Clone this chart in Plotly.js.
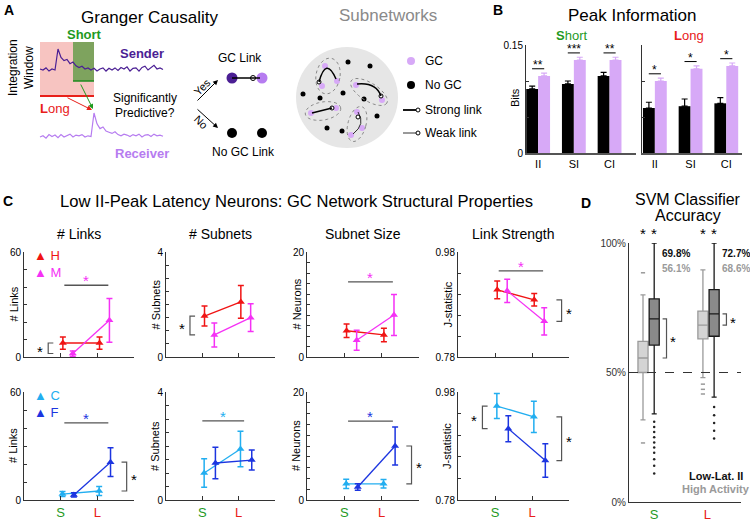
<!DOCTYPE html>
<html>
<head>
<meta charset="utf-8">
<script src="https://cdn.plot.ly/plotly-3.0.1.min.js"></script>
<style>body{margin:0;background:#fff;} #fig{width:750px;height:521px;}</style>
</head>
<body>
<div id="fig"></div>
<script>
// ---------- panel A: example traces (arbitrary units) ----------
const senderTrace = [0.05,0,0.1,-0.05,0.05,0,1.0,0.6,0.45,0.5,0.3,0.38,0.2,0.12,0.18,0.05,0.1,0,0.08,-0.05,0.05,0.1,-0.05,0.08,0,0.1,-0.02,0.12,0.05,0.15,-0.05,0.08,0.1,-0.05,0.12,0.18,0,0.1,0.22,0.05,0.1,0.02];
const receiverTrace = [0,0.05,-0.05,0.1,0.02,0.08,-0.03,0.1,0,0.05,0.12,0,0.08,0.05,0.1,0,0.05,0.02,1.0,0.55,0.35,0.42,0.25,0.2,0.15,0.22,0.1,0.05,0.12,0.08,0.02,0.1,0.05,0.12,0,0.08,0.1,0.02,0.12,0.05,0.08,0.03];

// ---------- panel B: peak information (bits) ----------
const regions = ['II', 'SI', 'CI'];
const shortNoGC = [0.089, 0.096, 0.107];
const shortNoGCErr = [0.004, 0.004, 0.005];
const shortGC = [0.107, 0.129, 0.129];
const shortGCErr = [0.004, 0.004, 0.004];
const longNoGC = [0.0625, 0.065, 0.069];
const longNoGCErr = [0.008, 0.010, 0.008];
const longGC = [0.100, 0.117, 0.121];
const longGCErr = [0.004, 0.004, 0.004];
const shortStars = ['**', '***', '**'];
const longStars = ['*', '*', '*'];

// ---------- panel C: network properties, values at S and L ----------
const windows = ['S', 'L'];
const metricTitles = ['# Links', '# Subnets', 'Subnet Size', 'Link Strength'];
const metricYLabels = ['# Links', '# Subnets', '# Neurons', 'J-statistic'];
const metricRanges = [[0, 60], [0, 4], [0, 20], [0.78, 0.98]];
const metricSteps = [10, 0.5, 2, 0.04];

const linksH = [8, 8],        linksHErr = [3.5, 3.5];
const linksM = [2, 21],       linksMErr = [1.5, 12.5];
const subnetsH = [1.56, 2.1], subnetsHErr = [0.38, 0.62];
const subnetsM = [0.84, 1.5], subnetsMErr = [0.46, 0.53];
const sizeH = [5.0, 4.2],     sizeHErr = [1.3, 1.3];
const sizeM = [3.2, 8.0],     sizeMErr = [1.9, 3.9];
const strengthH = [0.908, 0.889], strengthHErr = [0.017, 0.012];
const strengthM = [0.906, 0.848], strengthMErr = [0.022, 0.026];

const linksC = [3.3, 5.0],    linksCErr = [1.4, 2.5];
const linksF = [2.8, 21],     linksFErr = [1.2, 8];
const subnetsC = [1.0, 1.89], subnetsCErr = [0.53, 0.66];
const subnetsF = [1.37, 1.48], subnetsFErr = [0.58, 0.37];
const sizeC = [3.0, 3.0],     sizeCErr = [0.85, 0.8];
const sizeF = [2.4, 10],      sizeFErr = [0.6, 3.5];
const strengthC = [0.954, 0.934], strengthCErr = [0.023, 0.029];
const strengthF = [0.912, 0.853], strengthFErr = [0.024, 0.031];

// significance bar heights over S..L (null = none)
const sigLevelTop = [41, null, 14.3, 0.944];
const sigLevelBottom = [42.8, 2.93, 14.6, 0.984];

// ---------- panel D: SVM accuracy (%) ----------
const svmWindows = ['S', 'L'];
const lowLatQ1 = [60.6, 64],   lowLatMed = [70.7, 72.6], lowLatQ3 = [78.4, 82];
const lowLatLo = [34, 40.5],   lowLatHi = [100, 100];
const highActQ1 = [50, 63],    highActMed = [55.6, 68.3], highActQ3 = [62, 73.7];
const highActLo = [31.7, 48],  highActHi = [80, 89.6];
const lowLatOutS = [31, 29, 27, 25, 23, 21, 19, 16.5, 14, 11];
const lowLatOutL = [36.7, 33.5, 30.5, 27.5, 24.5];
const highActOutS = [88.5, 22.8];
const highActOutL = [45.5, 43.5, 41.7];
const lowLatMean = ['69.8%', '72.7%'];
const highActMean = ['56.1%', '68.6%'];

// ---------- colours ----------
const RED = '#f01414', MAG = '#f531f5', LBLUE = '#22aef0', DBLUE = '#1c35e0';
const GREEN = '#1f9a1f', PURPLE = '#d7a9f7', SENDER = '#4b1f94', RECEIVER = '#b67cf0';
const AX = '#333';
const FONT = 'Liberation Sans, Arial, sans-serif';

// pixel -> paper helpers (margins are zero)
const dx = (a, b) => [a / 750, b / 750];
const dy = (top, bottom) => [1 - bottom / 521, 1 - top / 521];

const traces = [];
const shapes = [];
const annotations = [];
const layout = {
  width: 750, height: 521, margin: {l: 0, r: 0, t: 0, b: 0},
  paper_bgcolor: '#fff', plot_bgcolor: 'rgba(0,0,0,0)',
  showlegend: false, font: {family: FONT, color: '#000', size: 11},
  barmode: 'group', bargap: 0.333, bargroupgap: 0,
};

function txt(x, y, text, extra) {
  return Object.assign({xref: 'x12', yref: 'y12', x: x, y: y, text: text, showarrow: false,
    font: {size: 12, color: '#000'}}, extra || {});
}

// overlay axis in pixel coordinates for the schematic and free text
layout.xaxis12 = {domain: [0, 1], range: [0, 750], visible: false, fixedrange: true};
layout.yaxis12 = {domain: [0, 1], range: [521, 0], visible: false, fixedrange: true};

// ================= panel A =================
annotations.push(txt(9, 10, '<b>A</b>', {font: {size: 14}}));
annotations.push(txt(150, 17, 'Granger Causality', {font: {size: 17}}));
annotations.push(txt(388, 15, 'Subnetworks', {font: {size: 17, color: '#8a8a8a'}}));

shapes.push({type: 'rect', xref: 'x12', yref: 'y12', x0: 40, x1: 94, y0: 42, y1: 95, fillcolor: '#f7c4c1', line: {width: 0}, layer: 'below'});
shapes.push({type: 'rect', xref: 'x12', yref: 'y12', x0: 73, x1: 94, y0: 42, y1: 81, fillcolor: '#7ea35e', line: {width: 0}, layer: 'below'});
shapes.push({type: 'line', xref: 'x12', yref: 'y12', x0: 73, x1: 94, y0: 81, y1: 81, line: {color: '#1f8a1f', width: 1.5}});
shapes.push({type: 'line', xref: 'x12', yref: 'y12', x0: 40, x1: 94, y0: 96, y1: 96, line: {color: '#e8201a', width: 2}});

traces.push({x: senderTrace.map((_, i) => 40 + 3 * i), y: senderTrace.map(v => 70 - v * 21),
  xaxis: 'x12', yaxis: 'y12', type: 'scatter', mode: 'lines', line: {color: SENDER, width: 1.2}, hoverinfo: 'skip'});
traces.push({x: receiverTrace.map((_, i) => 40 + 3 * i), y: receiverTrace.map(v => 137 - v * 24),
  xaxis: 'x12', yaxis: 'y12', type: 'scatter', mode: 'lines', line: {color: RECEIVER, width: 1.2}, hoverinfo: 'skip'});

annotations.push(txt(84, 34, '<b>Short</b>', {font: {size: 13, color: GREEN}}));
annotations.push(txt(55, 108, '<b>L</b>ong', {font: {size: 13, color: '#e8201a'}}));
annotations.push(txt(142, 53, '<b>Sender</b>', {font: {size: 13, color: SENDER}}));
annotations.push(txt(142, 153, '<b>Receiver</b>', {font: {size: 13, color: RECEIVER}}));
annotations.push(txt(21, 68, 'Integration<br>Window', {textangle: -90, font: {size: 12}}));
annotations.push(txt(145, 98, 'Significantly', {font: {size: 12}}));
annotations.push(txt(145, 113, 'Predictive?', {font: {size: 12}}));

const arrow = (x, y, ax, ay, color) => ({xref: 'x12', yref: 'y12', axref: 'x12', ayref: 'y12',
  x: x, y: y, ax: ax, ay: ay, text: '', showarrow: true, arrowhead: 2, arrowsize: 1, arrowwidth: 1, arrowcolor: color});
annotations.push(arrow(93, 109, 80, 83, GREEN));
annotations.push(arrow(92, 110, 66, 97, '#e8201a'));
annotations.push(arrow(218, 80, 196, 102, '#000'));
annotations.push(arrow(218, 128, 196, 108, '#000'));
annotations.push(txt(202, 87, 'Yes', {textangle: -45, font: {size: 11}}));
annotations.push(txt(201, 122, 'No', {textangle: 45, font: {size: 11}}));

annotations.push(txt(240, 58, 'GC Link', {font: {size: 12}}));
annotations.push(txt(243, 152, 'No GC Link', {font: {size: 12}}));
shapes.push({type: 'line', xref: 'x12', yref: 'y12', x0: 232, x1: 260, y0: 78, y1: 78, line: {color: '#000', width: 1.5}});
traces.push({x: [232, 262], y: [78, 78], xaxis: 'x12', yaxis: 'y12', type: 'scatter', mode: 'markers',
  marker: {size: 11, color: [SENDER, RECEIVER]}, hoverinfo: 'skip'});
traces.push({x: [253], y: [78], xaxis: 'x12', yaxis: 'y12', type: 'scatter', mode: 'markers',
  marker: {size: 5, color: '#fff', line: {color: '#000', width: 1}}, hoverinfo: 'skip'});
traces.push({x: [232, 262], y: [133, 133], xaxis: 'x12', yaxis: 'y12', type: 'scatter', mode: 'markers',
  marker: {size: 10, color: '#000'}, hoverinfo: 'skip'});

// subnetwork sketch
shapes.push({type: 'circle', xref: 'x12', yref: 'y12', x0: 296, x1: 398, y0: 47, y1: 148, fillcolor: '#e6e6e6', line: {width: 0}, layer: 'below'});
function ellipsePath(cx, cy, rx, ry, deg) {
  const a = deg * Math.PI / 180;
  let p = '';
  for (let k = 0; k <= 36; k++) {
    const t = k / 36 * 2 * Math.PI;
    const ex = rx * Math.cos(t), ey = ry * Math.sin(t);
    const x = cx + ex * Math.cos(a) - ey * Math.sin(a);
    const y = cy + ex * Math.sin(a) + ey * Math.cos(a);
    p += (k === 0 ? 'M' : 'L') + x.toFixed(1) + ',' + y.toFixed(1);
  }
  return p + 'Z';
}
[[328, 76, 12, 18, 10], [369, 92, 21, 9, 32], [323, 111, 18, 9, -10], [357, 124, 9, 18, 15]].forEach(e => {
  shapes.push({type: 'path', xref: 'x12', yref: 'y12', path: ellipsePath(...e), line: {color: '#888', width: 1, dash: 'dot'}});
});
shapes.push({type: 'path', xref: 'x12', yref: 'y12', path: 'M319,82 Q326,56 336,79', line: {color: '#000', width: 1.5}});
shapes.push({type: 'path', xref: 'x12', yref: 'y12', path: 'M357,84 Q376,82 381,96', line: {color: '#000', width: 1.5}});
shapes.push({type: 'line', xref: 'x12', yref: 'y12', x0: 312, y0: 113, x1: 332, y1: 108, line: {color: '#000', width: 1.5}});
shapes.push({type: 'path', xref: 'x12', yref: 'y12', path: 'M353,134 Q366,124 358,112', line: {color: '#000', width: 0.8}});
traces.push({x: [348, 370, 303, 320, 343, 364, 377, 327, 342], y: [62, 66, 94, 98, 93, 99, 116, 128, 131],
  xaxis: 'x12', yaxis: 'y12', type: 'scatter', mode: 'markers', marker: {size: 5, color: '#000'}, hoverinfo: 'skip'});
traces.push({x: [325, 337, 322, 356, 382, 311, 336, 357, 362, 351], y: [66, 81, 86, 85, 100, 113, 108, 112, 128, 135],
  xaxis: 'x12', yaxis: 'y12', type: 'scatter', mode: 'markers', marker: {size: 6, color: PURPLE}, hoverinfo: 'skip'});
traces.push({x: [319, 381, 332, 358], y: [82, 96, 108, 117], xaxis: 'x12', yaxis: 'y12', type: 'scatter', mode: 'markers',
  marker: {size: 4, color: '#fff', line: {color: '#000', width: 1}}, hoverinfo: 'skip'});

// legend of sketch
traces.push({x: [411, 411], y: [61, 85], xaxis: 'x12', yaxis: 'y12', type: 'scatter', mode: 'markers',
  marker: {size: 8, color: [PURPLE, '#000']}, hoverinfo: 'skip'});
shapes.push({type: 'line', xref: 'x12', yref: 'y12', x0: 403, x1: 416, y0: 110, y1: 110, line: {color: '#000', width: 1.8}});
shapes.push({type: 'line', xref: 'x12', yref: 'y12', x0: 403, x1: 416, y0: 133, y1: 133, line: {color: '#000', width: 0.8}});
traces.push({x: [418, 418], y: [110, 133], xaxis: 'x12', yaxis: 'y12', type: 'scatter', mode: 'markers',
  marker: {size: 4, color: '#fff', line: {color: '#000', width: 1}}, hoverinfo: 'skip'});
[['GC', 61], ['No GC', 85], ['Strong link', 110], ['Weak link', 133]].forEach(t => {
  annotations.push(txt(423, t[1], t[0], {xanchor: 'left', font: {size: 12}}));
});

// ================= panel B =================
annotations.push(txt(498, 10, '<b>B</b>', {font: {size: 14}}));
annotations.push(txt(632, 15, 'Peak Information', {font: {size: 17}}));
annotations.push(txt(571, 35, '<b>S</b>hort', {font: {size: 13, color: GREEN}}));
annotations.push(txt(689, 35, '<b>L</b>ong', {font: {size: 13, color: '#e8201a'}}));
annotations.push(txt(515, 98, 'Bits', {textangle: -90, font: {size: 11}}));

const bPanels = [
  {ax: '', dom: [526, 636], range: [-0.34, 2.74], noGC: shortNoGC, noGCErr: shortNoGCErr, gc: shortGC, gcErr: shortGCErr, stars: shortStars, labels: true},
  {ax: '2', dom: [642, 742], range: [-0.36, 2.44], noGC: longNoGC, noGCErr: longNoGCErr, gc: longGC, gcErr: longGCErr, stars: longStars, labels: false},
];
bPanels.forEach(p => {
  const xi = [0, 1, 2];
  const zeros = [0, 0, 0];
  traces.push({x: xi, y: p.noGC, xaxis: 'x' + p.ax, yaxis: 'y' + p.ax, type: 'bar', marker: {color: '#000'},
    error_y: {type: 'data', array: p.noGCErr, arrayminus: zeros, color: '#000', thickness: 1.2, width: 3}});
  traces.push({x: xi, y: p.gc, xaxis: 'x' + p.ax, yaxis: 'y' + p.ax, type: 'bar', marker: {color: PURPLE},
    error_y: {type: 'data', array: p.gcErr, arrayminus: zeros, color: PURPLE, thickness: 1.2, width: 3}});
  layout['xaxis' + p.ax] = {domain: dx(p.dom[0], p.dom[1]), range: p.range, anchor: 'y' + p.ax,
    tickvals: xi, ticktext: regions, ticks: '', showline: true, linecolor: '#555', linewidth: 1.5,
    showgrid: false, zeroline: false, tickfont: {size: 11}, fixedrange: true};
  layout['yaxis' + p.ax] = {domain: dy(45, 153), range: [0, 0.15], anchor: 'x' + p.ax,
    tickvals: [0, 0.05, 0.1, 0.15], ticktext: p.labels ? ['0', '', '', '0.15'] : ['', '', '', ''],
    ticks: 'inside', ticklen: 3, tickcolor: AX, showline: true, linecolor: AX, linewidth: 1,
    showgrid: false, zeroline: false, tickfont: {size: 10}, fixedrange: true};
  xi.forEach(i => {
    const lvl = p.gc[i] + p.gcErr[i] + 0.006;
    shapes.push({type: 'line', xref: 'x' + p.ax, yref: 'y' + p.ax, x0: i - 0.17, x1: i + 0.17, y0: lvl, y1: lvl, line: {color: '#000', width: 1}});
    annotations.push({xref: 'x' + p.ax, yref: 'y' + p.ax, x: i, y: lvl, yanchor: 'bottom', yshift: -5, text: p.stars[i],
      showarrow: false, font: {size: 12, color: '#000'}});
  });
});

// ================= panel C =================
annotations.push(txt(8, 201, '<b>C</b>', {font: {size: 14}}));
annotations.push(txt(296, 201, 'Low II-Peak Latency Neurons: GC Network Structural Properties', {font: {size: 16.6}}));

const colX = [[24, 134], [166, 275], [307, 419], [458, 569]];
const rowY = [[252, 357], [392, 500]];
const topSeries = [
  {name: 'H', color: RED, off: 0.06, vals: [linksH, subnetsH, sizeH, strengthH], errs: [linksHErr, subnetsHErr, sizeHErr, strengthHErr]},
  {name: 'M', color: MAG, off: 0.33, vals: [linksM, subnetsM, sizeM, strengthM], errs: [linksMErr, subnetsMErr, sizeMErr, strengthMErr]},
];
const bottomSeries = [
  {name: 'C', color: LBLUE, off: 0.05, vals: [linksC, subnetsC, sizeC, strengthC], errs: [linksCErr, subnetsCErr, sizeCErr, strengthCErr]},
  {name: 'F', color: DBLUE, off: 0.36, vals: [linksF, subnetsF, sizeF, strengthF], errs: [linksFErr, subnetsFErr, sizeFErr, strengthFErr]},
];
// which series each significance bar belongs to, and bracket sides
const sigSeriesTop = ['M', null, 'M', 'M'];
const sigSeriesBottom = ['F', 'C', 'F', 'F'];
const bracketsTop = [['left'], ['left'], [], ['right']];
const bracketsBottom = [['right'], [], ['right'], ['left', 'right']];

function bracket(xa, ya, side, y1, y2) {
  const x = side === 'left' ? 0.66 : 2.8;
  const w = side === 'left' ? 0.14 : -0.14;
  shapes.push({type: 'path', xref: xa, yref: ya,
    path: `M${x + w},${y1} L${x},${y1} L${x},${y2} L${x + w},${y2}`, line: {color: '#555', width: 1.2}});
  annotations.push({xref: xa, yref: ya, x: side === 'left' ? x - 0.22 : x + 0.2, y: (y1 + y2) / 2, yshift: -3,
    text: '*', showarrow: false, font: {size: 15, color: '#000'}});
}

const sLabel = `<span style="color:${GREEN}">S</span>`, lLabel = '<span style="color:#e8201a">L</span>';

[topSeries, bottomSeries].forEach((series, r) => {
  for (let c = 0; c < 4; c++) {
    const n = 3 + r * 4 + c;
    const xa = 'x' + n, ya = 'y' + n;
    const rg = metricRanges[c];
    const tv = [];
    for (let v = rg[0]; v <= rg[1] + 1e-9; v += metricSteps[c]) tv.push(+v.toFixed(3));
    const tt = tv.map((v, i) => (i === 0 || i === tv.length - 1) ? String(v) : '');
    layout['xaxis' + n] = {domain: dx(colX[c][0], colX[c][1]), range: [0, 3], anchor: ya,
      tickvals: [1, 2], ticktext: r === 1 ? [sLabel, lLabel] : ['', ''],
      ticks: 'inside', ticklen: 4, tickcolor: AX, showline: true, linecolor: AX, linewidth: 1,
      showgrid: false, zeroline: false, tickfont: {size: 13}, fixedrange: true};
    layout['yaxis' + n] = {domain: dy(rowY[r][0], rowY[r][1]), range: rg, anchor: xa,
      tickvals: tv, ticktext: tt, ticks: 'inside', ticklen: 3, tickcolor: AX, showline: true, linecolor: AX, linewidth: 1,
      showgrid: false, zeroline: false, tickfont: {size: 10}, fixedrange: true};

    series.forEach(s => {
      traces.push({x: windows.map((_, i) => i + 1 + s.off), y: s.vals[c], xaxis: xa, yaxis: ya,
        type: 'scatter', mode: 'lines+markers', line: {color: s.color, width: 1.3},
        marker: {symbol: 'triangle-up', size: 7, color: s.color},
        error_y: {type: 'data', array: s.errs[c], color: s.color, thickness: 1.5, width: 3}, hoverinfo: 'skip'});
    });

    const cx = (colX[c][0] + colX[c][1]) / 2;
    const cy = (rowY[r][0] + rowY[r][1]) / 2;
    if (r === 0) annotations.push(txt(cx, 234, metricTitles[c], {font: {size: 14}}));
    annotations.push(txt(colX[c][0] - 11, cy, metricYLabels[c], {textangle: -90, font: {size: 11}}));

    const lvl = (r === 0 ? sigLevelTop : sigLevelBottom)[c];
    const sName = (r === 0 ? sigSeriesTop : sigSeriesBottom)[c];
    if (lvl !== null) {
      const s = series.find(q => q.name === sName);
      const x0 = s.off > 0.2 ? 1.1 : 1.0, x1 = s.off > 0.2 ? 2.3 : 2.15;
      shapes.push({type: 'line', xref: xa, yref: ya, x0: x0, x1: x1, y0: lvl, y1: lvl, line: {color: '#555', width: 1.3}});
      annotations.push({xref: xa, yref: ya, x: (x0 + x1) / 2, y: lvl, yanchor: 'bottom', yshift: -6, text: '*',
        showarrow: false, font: {size: 15, color: s.color}});
    }
    (r === 0 ? bracketsTop : bracketsBottom)[c].forEach(side => {
      const idx = side === 'left' ? 0 : 1;
      bracket(xa, ya, side, series[0].vals[c][idx], series[1].vals[c][idx]);
    });
  }
  // little legend in the first subplot of each row
  const legText = series.map(s => `<span style="color:${s.color}">▲ ${s.name}</span>`).join('<br>');
  annotations.push(txt(32, rowY[r][0] + 12, legText, {xanchor: 'left', align: 'left', font: {size: 13}}));
});

// ================= panel D =================
annotations.push(txt(586, 203, '<b>D</b>', {font: {size: 14}}));
annotations.push(txt(688, 199, 'SVM Classifier', {font: {size: 16}}));
annotations.push(txt(688, 215, 'Accuracy', {font: {size: 16}}));

const dPos = {highAct: [0.5, 2.64], lowLat: [0.9, 3.04]};
svmWindows.forEach((w, i) => {
  traces.push({type: 'box', orientation: 'v', xaxis: 'x11', yaxis: 'y11', x: [dPos.highAct[i]],
    q1: [highActQ1[i]], median: [highActMed[i]], q3: [highActQ3[i]], lowerfence: [highActLo[i]], upperfence: [highActHi[i]],
    width: 0.36, whiskerwidth: 0.5, boxpoints: false, fillcolor: '#d4d4d4', line: {color: '#9a9a9a', width: 1.3}, hoverinfo: 'skip'});
  traces.push({type: 'box', orientation: 'v', xaxis: 'x11', yaxis: 'y11', x: [dPos.lowLat[i]],
    q1: [lowLatQ1[i]], median: [lowLatMed[i]], q3: [lowLatQ3[i]], lowerfence: [lowLatLo[i]], upperfence: [lowLatHi[i]],
    width: 0.36, whiskerwidth: 0.5, boxpoints: false, fillcolor: '#8a8a8a', line: {color: '#1a1a1a', width: 1.3}, hoverinfo: 'skip'});
});
const outHigh = [highActOutS, highActOutL], outLow = [lowLatOutS, lowLatOutL];
svmWindows.forEach((w, i) => {
  traces.push({x: outHigh[i].map(() => dPos.highAct[i]), y: outHigh[i], xaxis: 'x11', yaxis: 'y11', type: 'scatter', mode: 'markers',
    marker: {symbol: 'line-ew', size: 3, line: {color: '#9a9a9a', width: 1.5}}, hoverinfo: 'skip'});
  traces.push({x: outLow[i].map(() => dPos.lowLat[i]), y: outLow[i], xaxis: 'x11', yaxis: 'y11', type: 'scatter', mode: 'markers',
    marker: {size: 2.5, color: '#222'}, hoverinfo: 'skip'});
});
layout.xaxis11 = {domain: dx(629, 741), range: [0, 4], anchor: 'y11', tickvals: [0.9, 2.8],
  ticktext: [sLabel, lLabel], ticks: '', showline: true, linecolor: AX, linewidth: 1, showgrid: false, zeroline: false,
  tickfont: {size: 13}, ticklabelstandoff: 0, fixedrange: true};
layout.yaxis11 = {domain: dy(243, 502), range: [0, 100], anchor: 'x11', tickvals: [0, 50, 100], ticktext: ['0%', '50%', '100%'],
  ticks: '', showline: true, linecolor: AX, linewidth: 1, showgrid: false, zeroline: false, tickfont: {size: 10, color: '#333'}, fixedrange: true};
shapes.push({type: 'line', xref: 'x11', yref: 'y11', x0: 0, x1: 4, y0: 50, y1: 50, line: {color: '#333', width: 1, dash: 'dash'}});

svmWindows.forEach((w, i) => {
  [dPos.highAct[i], dPos.lowLat[i]].forEach(x => {
    annotations.push({xref: 'x11', yref: 'y11', x: x, y: 100, yshift: 10, text: '*', showarrow: false, font: {size: 15}});
  });
  annotations.push({xref: 'x11', yref: 'y11', x: dPos.lowLat[i] + 0.2, y: 96, xanchor: 'left', text: '<b>' + lowLatMean[i] + '</b>',
    showarrow: false, font: {size: 10, color: '#111'}});
  annotations.push({xref: 'x11', yref: 'y11', x: dPos.lowLat[i] + 0.2, y: 90, xanchor: 'left', text: '<b>' + highActMean[i] + '</b>',
    showarrow: false, font: {size: 10, color: '#9a9a9a'}});
  const bx = dPos.lowLat[i] + 0.44, y1 = lowLatMed[i], y2 = highActMed[i];
  shapes.push({type: 'path', xref: 'x11', yref: 'y11', path: `M${bx - 0.14},${y1} L${bx},${y1} L${bx},${y2} L${bx - 0.14},${y2}`,
    line: {color: '#555', width: 1.2}});
  annotations.push({xref: 'x11', yref: 'y11', x: bx + 0.22, y: (y1 + y2) / 2, yshift: -3, text: '*', showarrow: false, font: {size: 15}});
});
annotations.push(txt(716, 476, '<b>Low-Lat. II</b>', {font: {size: 11, color: '#111'}}));
annotations.push(txt(716, 489, '<b>High Activity</b>', {font: {size: 11, color: '#9a9a9a'}}));

layout.shapes = shapes;
layout.annotations = annotations;

Plotly.newPlot('fig', traces, layout, {staticPlot: true, displayModeBar: false});
</script>
</body>
</html>
